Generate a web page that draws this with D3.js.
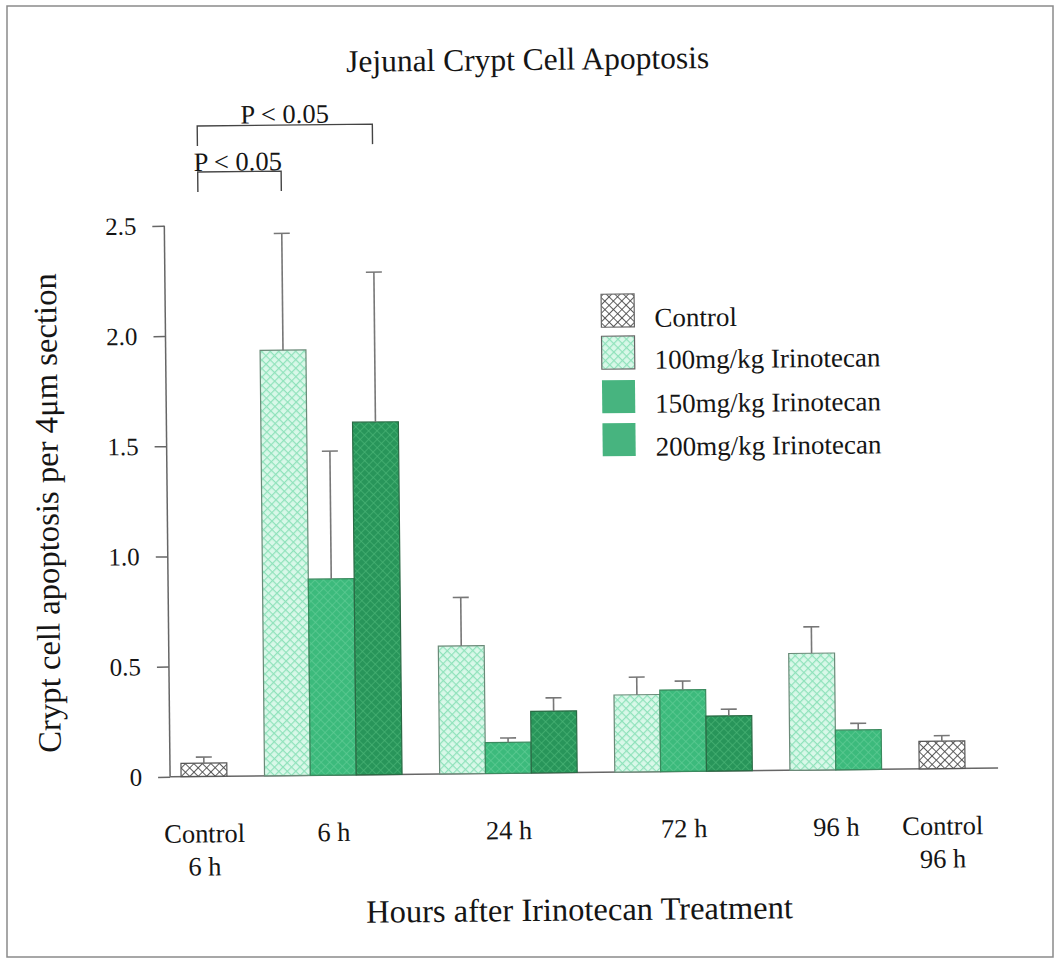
<!DOCTYPE html>
<html>
<head>
<meta charset="utf-8">
<script src="https://cdn.jsdelivr.net/npm/d3@7/dist/d3.min.js"></script>
<style>
  html, body { margin: 0; padding: 0; background: #fff; }
  svg { display: block; }
  text { font-family: "Liberation Serif", "DejaVu Serif", "Times New Roman", serif; fill: #151515; }
</style>
</head>
<body>
<svg id="chart" width="1061" height="959"></svg>
<script>
// ---- data ----
const groups = ["Control|6 h", "6 h", "24 h", "72 h", "96 h", "Control|96 h"];
const seriesNames = ["Control", "100mg/kg Irinotecan", "150mg/kg Irinotecan", "200mg/kg Irinotecan"];
const controlMean = [0.06, null, null, null, null, 0.125];
const controlErr  = [0.028, null, null, null, null, 0.025];
const dose100Mean = [null, 1.93, 0.58, 0.35, 0.53, null];
const dose100Err  = [null, 0.53, 0.22, 0.08, 0.12, null];
const dose150Mean = [null, 0.89, 0.14, 0.37, 0.18, null];
const dose150Err  = [null, 0.58, 0.02, 0.04, 0.03, null];
const dose200Mean = [null, 1.60, 0.28, 0.25, null, null];
const dose200Err  = [null, 0.68, 0.06, 0.03, null, null];
const yTicks = [0, 0.5, 1.0, 1.5, 2.0, 2.5];
const titleText = "Jejunal Crypt Cell Apoptosis";
const yLabel = "Crypt cell apoptosis per 4\u03bcm section";
const xLabel = "Hours after Irinotecan Treatment";
const sigLabel = "P < 0.05";
// significance brackets: [group index, series index] pairs
const sigPairs = [
  { from: [0, 0], to: [1, 1], level: 1 },
  { from: [0, 0], to: [1, 3], level: 0 }
];

const means = [controlMean, dose100Mean, dose150Mean, dose200Mean];
const errs = [controlErr, dose100Err, dose150Err, dose200Err];

const svg = d3.select("#chart");

// outer frame
svg.append("rect").attr("x", 7).attr("y", 6).attr("width", 1046).attr("height", 951)
  .attr("fill", "none").attr("stroke", "#8a8a8a").attr("stroke-width", 1.5);

// patterns
const defs = svg.append("defs");
function lattice(id, bg, line, lw, size) {
  const p = defs.append("pattern").attr("id", id).attr("patternUnits", "userSpaceOnUse")
    .attr("width", size).attr("height", size).attr("patternTransform", "rotate(45)");
  p.append("rect").attr("width", size).attr("height", size).attr("fill", bg);
  p.append("line").attr("x1", 0).attr("y1", 0).attr("x2", size).attr("y2", 0).attr("stroke", line).attr("stroke-width", lw);
  p.append("line").attr("x1", 0).attr("y1", 0).attr("x2", 0).attr("y2", size).attr("stroke", line).attr("stroke-width", lw);
}
lattice("pCtrl", "#ffffff", "#4a4a4a", 1.8, 6);
lattice("p100", "#d9f8e9", "#8fe2bb", 2.4, 6);
lattice("p150", "#3cba7c", "#60cb95", 1.4, 6);
lattice("p200", "#28955a", "#48b475", 1.4, 6);
const fills = ["url(#pCtrl)", "url(#p100)", "url(#p150)", "url(#p200)"];
const strokes = ["#555", "#6a8a78", "#3a8a5e", "#2a6a44"];
const legendFills = ["url(#pCtrl)", "url(#p100)", "#47b47f", "#47b47f"];

const g = svg.append("g").attr("transform", "rotate(-0.6 530 480)");

// layout of bars: flat slot positions in "bar units"
const gapUnits = 0.82;
const bars = [];
const groupCenters = [];
let u = 0;
groups.forEach((grp, gi) => {
  const present = [];
  means.forEach((arr, si) => { if (arr[gi] != null) present.push(si); });
  const start = u;
  present.forEach(si => {
    bars.push({ gi, si, u0: u, value: means[si][gi], err: errs[si][gi] });
    u += 1;
  });
  groupCenters.push((start + u) / 2);
  if (gi < groups.length - 1) u += gapUnits;
});
const totalUnits = u;

const x = d3.scaleLinear().domain([0, totalUnits]).range([178, 962]);
const y = d3.scaleLinear().domain([0, 2.5]).range([773, 222]);
const axisX = 167;

// y axis
const yAxis = d3.axisLeft(y).tickValues(yTicks)
  .tickFormat(d => d === 0 ? "0" : d3.format(".1f")(d))
  .tickSize(12).tickPadding(16);
const ya = g.append("g").attr("transform", `translate(${axisX},0)`).call(yAxis);
ya.attr("font-family", null);
ya.select(".domain").attr("stroke", "#666").attr("stroke-width", 1.5).attr("d", `M0,${y(2.5)}V${y(0)}`);
ya.selectAll(".tick line").attr("stroke", "#666").attr("stroke-width", 1.5);
ya.selectAll(".tick text").attr("font-size", 25).attr("fill", "#151515");

// x axis baseline
g.append("line").attr("x1", axisX).attr("x2", 995).attr("y1", y(0)).attr("y2", y(0))
  .attr("stroke", "#666").attr("stroke-width", 1.5);

// bars
const bw = x(1) - x(0);
g.selectAll("rect.bar").data(bars).join("rect").attr("class", "bar")
  .attr("x", d => x(d.u0)).attr("width", bw)
  .attr("y", d => y(d.value)).attr("height", d => y(0) - y(d.value))
  .attr("fill", d => fills[d.si]).attr("stroke", d => strokes[d.si]).attr("stroke-width", 1.2);

// error bars (upper only)
const eb = g.selectAll("g.err").data(bars).join("g").attr("class", "err");
eb.append("line")
  .attr("x1", d => x(d.u0 + 0.5)).attr("x2", d => x(d.u0 + 0.5))
  .attr("y1", d => y(d.value)).attr("y2", d => y(d.value + d.err))
  .attr("stroke", "#777").attr("stroke-width", 1.6);
eb.append("line")
  .attr("x1", d => x(d.u0 + 0.5) - 8).attr("x2", d => x(d.u0 + 0.5) + 8)
  .attr("y1", d => y(d.value + d.err)).attr("y2", d => y(d.value + d.err))
  .attr("stroke", "#777").attr("stroke-width", 1.6);

// category labels
groups.forEach((grp, gi) => {
  const lines = grp.split("|");
  const t = g.append("text").attr("x", x(groupCenters[gi])).attr("y", 839)
    .attr("text-anchor", "middle").attr("font-size", 26.5);
  lines.forEach((ln, li) => {
    t.append("tspan").attr("x", x(groupCenters[gi])).attr("dy", li === 0 ? 0 : 33).text(ln);
  });
});

// title & axis labels
g.append("text").attr("x", 532).attr("y", 70).attr("text-anchor", "middle")
  .attr("font-size", 31.5).text(titleText);
g.append("text").attr("x", 575).attr("y", 921).attr("text-anchor", "middle")
  .attr("font-size", 32.5).text(xLabel);
g.append("text").attr("transform", "translate(58,508) rotate(-90)").attr("text-anchor", "middle")
  .attr("font-size", 32.7).text(yLabel);

// significance brackets
function barCenter(gi, si) {
  const b = bars.find(d => d.gi === gi && d.si === si);
  return x(b.u0 + 0.5);
}
const levelY = [122.5, 168.5];
sigPairs.forEach(p => {
  const x1 = barCenter(p.from[0], p.from[1]);
  const x2 = barCenter(p.to[0], p.to[1]);
  const yy = levelY[p.level];
  g.append("path").attr("d", `M${x1},${yy + 20}V${yy}H${x2}V${yy + 20}`)
    .attr("fill", "none").attr("stroke", "#444").attr("stroke-width", 1.4);
  if (p.level === 0) {
    g.append("text").attr("x", (x1 + x2) / 2).attr("y", yy - 2).attr("text-anchor", "middle")
      .attr("font-size", 26.5).text(sigLabel);
  } else {
    g.append("text").attr("x", x1 - 4).attr("y", yy - 1).attr("text-anchor", "start")
      .attr("font-size", 26.5).text(sigLabel);
  }
});

// legend
const legY = [295, 337, 381, 424];
const lg = g.append("g");
seriesNames.forEach((name, i) => {
  lg.append("rect").attr("x", 603).attr("y", legY[i]).attr("width", 33).attr("height", 33)
    .attr("fill", legendFills[i]).attr("stroke", i < 2 ? "#666" : "none").attr("stroke-width", 1.2);
  lg.append("text").attr("x", 656).attr("y", legY[i] + 33).attr("font-size", 27).text(name);
});
</script>
</body>
</html>
